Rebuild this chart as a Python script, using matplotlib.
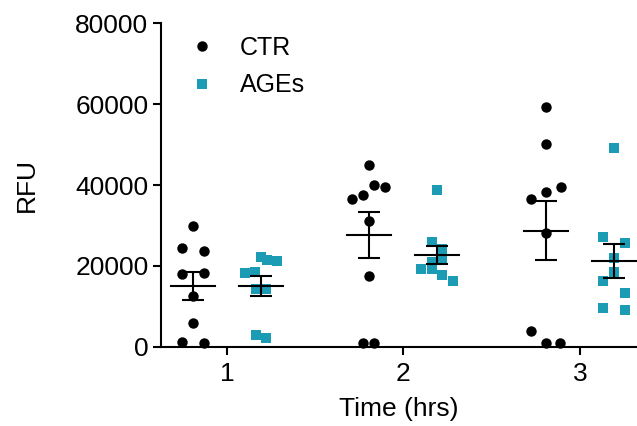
import matplotlib
matplotlib.use("Agg")
import matplotlib.pyplot as plt
import numpy as np

plt.rcParams['font.family'] = ['Liberation Sans', 'DejaVu Sans']

# Data (RFU per time point)
times = [1, 2, 3]
time_labels = ["1", "2", "3"]

ctr_1 = [30000, 24500, 23800, 18000, 18200, 12500, 5900, 1200, 1000]
ctr_2 = [45000, 40000, 39500, 37500, 36500, 31200, 17500, 1000, 1000]
ctr_3 = [59300, 50100, 39600, 38400, 36500, 28100, 4000, 1000, 1000]

ages_1 = [22300, 21500, 21100, 18200, 18600, 14400, 14400, 3000, 2200]
ages_2 = [38800, 26000, 24200, 21000, 21600, 19300, 19300, 17800, 16200]
ages_3 = [49300, 27100, 25600, 21900, 18500, 16300, 13300, 9700, 9000]

# scatter layout (horizontal spread of points, in pixels of the original)
ctr_spread = [
    [0, -11, 11, -11, 11, 0, 0, -11, 11],
    [0, 5, 16, -6, -17, 0, 0, -6, 5],
    [0, 0, 15, 0, -15, 0, -15, 0, 14],
]
ages_spread = [
    [0, 6, 16, -16, -6, -5, 5, -5, 5],
    [0, -5, 5, -5, 5, -16, -5, 5, 16],
    [0, -11, 11, 0, 0, -11, 11, -11, 11],
]

ctr = [ctr_1, ctr_2, ctr_3]
ages = [ages_1, ages_2, ages_3]

teal = "#1c9bb4"
px = 1 / 176.5      # one pixel in x data units
offset = 34 * px    # group offset from tick

fig = plt.figure(figsize=(6.37, 4.26), dpi=100)
ax = fig.add_axes([0.2527, 0.186, 0.7473, 0.759])

def draw_group(x0, vals, spread, marker, color):
    vals = np.array(vals)
    xs = x0 + np.array(spread) * px
    ax.plot(xs, vals, linestyle="none", marker=marker, ms=7.5,
            color=color, markeredgewidth=0, clip_on=False, zorder=3)
    m = vals.mean()
    sem = vals.std(ddof=1) / np.sqrt(len(vals))
    ax.plot([x0 - 22 * px, x0 + 22 * px], [m, m], color="black", lw=1.5, zorder=4)
    ax.errorbar([x0], [m], yerr=[sem], fmt="none", ecolor="black",
                elinewidth=1.5, capsize=7.8, capthick=1.5, zorder=4)

for i, t in enumerate(times):
    draw_group(t - offset, ctr[i], ctr_spread[i], "o", "black")
    draw_group(t + offset, ages[i], ages_spread[i], "s", teal)

ax.set_xlim(1 - 66 * px, 3 + 57 * px)
ax.set_ylim(0, 80000)
ax.set_xticks(times)
ax.set_xticklabels(time_labels)
ax.set_yticks([0, 20000, 40000, 60000, 80000])
ax.set_yticklabels(["0", "20000", "40000", "60000", "80000"])

for s in ["top", "right"]:
    ax.spines[s].set_visible(False)
for s in ["left", "bottom"]:
    ax.spines[s].set_linewidth(1.5)
ax.tick_params(axis="both", width=1.5, length=6, labelsize=19, pad=3)
ax.tick_params(axis="x", pad=5)

ax.set_xlabel("Time (hrs)", fontsize=19, labelpad=8)
ax.set_ylabel("RFU", fontsize=19, labelpad=26)

h1 = ax.plot([], [], "o", color="black", ms=7.5, markeredgewidth=0)[0]
h2 = ax.plot([], [], "s", color=teal, ms=7.5, markeredgewidth=0)[0]
ax.legend([h1, h2], ["CTR", "AGEs"], loc="upper left", bbox_to_anchor=(0.013, 1.03),
          frameon=False, fontsize=18, handlelength=1.0, handletextpad=1.02,
          labelspacing=0.53)

fig.savefig("out.png", dpi=100)
